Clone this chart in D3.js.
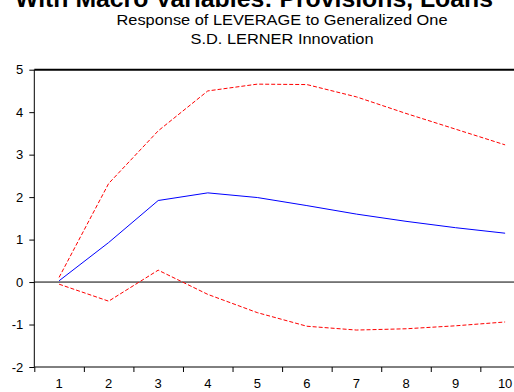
<!DOCTYPE html>
<html>
<head>
<meta charset="utf-8">
<script src="https://cdn.jsdelivr.net/npm/d3@7"></script>
<style>
  body { margin: 0; background: #fff; }
  svg { display: block; font-family: "Liberation Sans", Arial, sans-serif; }
  .axis text { font-size: 13px; fill: #000; }
  .axis path, .axis line { stroke: #000; }
</style>
</head>
<body>
<div id="chart"></div>
<script>
// periods after the shock
var periods = [1, 2, 3, 4, 5, 6, 7, 8, 9, 10];
// impulse response and +/- 2 S.E. bands
var response = [0.03, 0.93, 1.92, 2.10, 1.99, 1.80, 1.60, 1.43, 1.28, 1.15];
var upperBand = [0.11, 2.32, 3.56, 4.50, 4.66, 4.65, 4.36, 3.97, 3.60, 3.23];
var lowerBand = [-0.05, -0.45, 0.28, -0.29, -0.72, -1.04, -1.13, -1.10, -1.03, -0.94];
var yTicks = [-2, -1, 0, 1, 2, 3, 4, 5];

var mainTitle = "With Macro Variables: Provisions, Loans";
var subTitle = ["Response of LEVERAGE to Generalized One", "S.D. LERNER Innovation"];

function drawChart() {
    // constant margins, width, and height
    var margin = {top: 69.7, right: 0, bottom: 25, left: 34.3};
    var width = 495.6;
    var height = 297.3;

    var svg = d3.select("#chart").append("svg")
        .attr("width", 514)
        .attr("height", 392);

    // titles (top one is cut off by the page edge like in the export)
    svg.append("text")
        .attr("x", 254)
        .attr("y", 7)
        .attr("text-anchor", "middle")
        .attr("textLength", 478)
        .attr("lengthAdjust", "spacingAndGlyphs")
        .style("font-size", "24px")
        .style("font-weight", "bold")
        .text(mainTitle);

    var subWidths = [331, 183];
    subTitle.forEach(function(t, i) {
        svg.append("text")
            .attr("x", 282)
            .attr("y", 24.5 + i * 19)
            .attr("text-anchor", "middle")
            .attr("textLength", subWidths[i])
            .attr("lengthAdjust", "spacingAndGlyphs")
            .style("font-size", "14.5px")
            .text(t);
    });

    // scales
    var x = d3.scaleLinear().domain([0.5, 10.5]).range([0, width]);
    var y = d3.scaleLinear().domain([-2, 5]).range([height, 0]);

    var g = svg.append("g")
        .attr("transform", `translate(${margin.left},${margin.top})`);

    // y axis (plain hyphen for negatives, like the export)
    g.append("g")
        .attr("class", "axis")
        .call(d3.axisLeft(y).tickValues(yTicks).tickSize(5).tickPadding(6).tickFormat(d => String(d)))
        .call(a => a.select(".domain").attr("d", `M0,0V${height}`));

    // x axis: ticks between periods, labels at the periods
    var xAxis = g.append("g")
        .attr("class", "axis")
        .attr("transform", `translate(0,${height})`);
    xAxis.call(d3.axisBottom(x).tickValues(periods.map(p => p - 0.5)).tickSize(5).tickFormat(""))
        .call(a => a.select(".domain").attr("d", `M0,0H${width}`));
    xAxis.selectAll(".label")
        .data(periods)
        .enter()
        .append("text")
        .attr("x", d => x(d))
        .attr("y", 21)
        .attr("text-anchor", "middle")
        .style("font-size", "13px")
        .text(d => d);

    // top frame and zero line
    g.append("line")
        .attr("x1", 0).attr("x2", width)
        .attr("y1", 0).attr("y2", 0)
        .attr("stroke", "#000")
        .attr("stroke-width", 2);
    g.append("line")
        .attr("x1", 0).attr("x2", width)
        .attr("y1", y(0)).attr("y2", y(0))
        .attr("stroke", "#000");

    var line = d3.line()
        .x((d, i) => x(periods[i]))
        .y(d => y(d));

    g.append("path")
        .datum(upperBand)
        .attr("fill", "none")
        .attr("stroke", "#ff0000")
        .attr("stroke-dasharray", "4,2")
        .attr("d", line);

    g.append("path")
        .datum(lowerBand)
        .attr("fill", "none")
        .attr("stroke", "#ff0000")
        .attr("stroke-dasharray", "4,2")
        .attr("d", line);

    g.append("path")
        .datum(response)
        .attr("fill", "none")
        .attr("stroke", "#0000ff")
        .attr("d", line);
}

drawChart();
</script>
</body>
</html>
